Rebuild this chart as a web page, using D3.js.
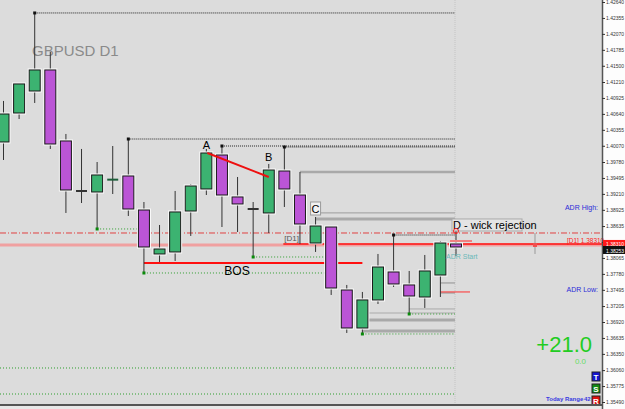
<!DOCTYPE html>
<html>
<head>
<meta charset="utf-8">
<script src="https://cdn.jsdelivr.net/npm/d3@7"></script>
<style>
  body { margin: 0; background: #fff; }
  svg { display: block; font-family: "Liberation Sans", Arial, sans-serif; }
</style>
</head>
<body>
<svg id="chart" width="625" height="409"></svg>
<script>
// daily bars, left to right
var bars = d3.range(30);
var opens  = [1.40138, 1.40656, 1.41049, 1.41425, 1.40156, 1.39262, 1.39244, 1.39459, 1.39530, 1.38922,
              1.38136, 1.38172, 1.38904, 1.39298, 1.39905, 1.39155, 1.38940, 1.38869, 1.39619, 1.39190,
              1.38332, 1.38618, 1.37492, 1.36813, 1.37314, 1.37814, 1.37582, 1.37367, 1.37760, 1.38315];
var highs  = [1.40871, 1.41192, 1.42444, 1.41747, 1.40281, 1.40013, 1.39780, 1.40066, 1.40191, 1.39065,
              1.38654, 1.39262, 1.39387, 1.40013, 1.40066, 1.39512, 1.39065, 1.39745, 1.40048, 1.39602,
              1.38797, 1.38636, 1.37582, 1.37457, 1.38136, 1.38475, 1.37832, 1.38118, 1.38368, 1.38565];
var lows   = [1.39816, 1.40549, 1.40835, 1.40013, 1.38869, 1.39047, 1.38583, 1.39208, 1.38815, 1.37796,
              1.37993, 1.38011, 1.38458, 1.39190, 1.38618, 1.38529, 1.38082, 1.38511, 1.38976, 1.38315,
              1.38172, 1.37403, 1.36724, 1.36706, 1.37242, 1.37546, 1.37063, 1.37171, 1.37367, 1.38100];
var closes = [1.40638, 1.41175, 1.41425, 1.40102, 1.39280, 1.39262, 1.39548, 1.39470, 1.38940, 1.38261,
              1.38225, 1.38887, 1.39351, 1.39941, 1.39190, 1.39030, 1.38940, 1.39637, 1.39298, 1.38672,
              1.38636, 1.37528, 1.36813, 1.37314, 1.37903, 1.37600, 1.37385, 1.37832, 1.38332, 1.38261];

var priceTicks = ["1.42640", "1.42355", "1.42070", "1.41785", "1.41500", "1.41210", "1.40925", "1.40640",
                  "1.40355", "1.40070", "1.39780", "1.39495", "1.39210", "1.38925", "1.38635", "1.38350",
                  "1.38065", "1.37780", "1.37495", "1.37205", "1.36920", "1.36635", "1.36350", "1.36060",
                  "1.35775", "1.35490"];

// swing highs / lows extended to the right
var highLevels = [[2, 1.42444, 29], [8, 1.40191, 29], [14, 1.40066, 29], [18, 1.40048, 29], [25, 1.38475, 29]];
var lowLevels  = [[6, 1.38583, 8.6], [9, 1.37796, 20.7], [16, 1.38082, 20.7], [26, 1.37063, 29], [23, 1.36706, 29]];
var zoneLines  = [[19, 1.39602, 2.5], [20, 1.38869, 1.2], [20, 1.38761, 3], [28, 1.37618, 1.5], [28, 1.37439, 1.5],
                  [26, 1.37153, 1], [23.4, 1.37081, 1.2], [23.4, 1.36956, 3], [23, 1.36759, 3]];
var fullDotted = [1.36098, 1.35633];
var adrHighLine = 1.38511, d1Level = 1.38315, pinkLevel = 1.38297, bosLevel = 1.37975;
var lastPrice = "1.38253", d1Label = "1.38310";

var svg = d3.select("#chart");
var W = 602, H = 405;

var x = d3.scaleLinear().domain([0, 29]).range([3.5, 456]);
var y = d3.scaleLinear().domain([1.35490, 1.42640]).range([402, 2]);
var xEnd = x(29) - 1;

svg.append("rect").attr("width", W).attr("height", H).attr("fill", "#dcdcdc");
svg.append("rect").attr("x", W).attr("width", 625 - W).attr("height", 409).attr("fill", "#fdfdfd");
svg.append("rect").attr("y", H).attr("width", W).attr("height", 4).attr("fill", "#e8e8e8");

// chart shift separator
svg.append("line").attr("x1", xEnd).attr("x2", xEnd).attr("y1", 0).attr("y2", H)
  .attr("stroke", "#c4c4c4").attr("stroke-dasharray", "1,1");

svg.append("text").attr("x", 32).attr("y", 56).attr("fill", "#8a8a8a")
  .attr("font-size", 15).text("GBPUSD D1");

// gray zone lines
svg.selectAll(".zone").data(zoneLines).enter().append("line")
  .attr("x1", d => x(d[0])).attr("x2", xEnd)
  .attr("y1", d => y(d[1])).attr("y2", d => y(d[1]))
  .attr("stroke", "#a9a9a9").attr("stroke-width", d => d[2]);

// full-width levels
svg.selectAll(".fd").data(fullDotted).enter().append("line")
  .attr("x1", 0).attr("x2", xEnd).attr("y1", d => y(d)).attr("y2", d => y(d))
  .attr("stroke", "#2e9e2e").attr("stroke-dasharray", "1,2");

svg.append("line").attr("x1", 0).attr("x2", W).attr("y1", y(pinkLevel)).attr("y2", y(pinkLevel))
  .attr("stroke", "#f0a0a0").attr("stroke-width", 3);
svg.append("line").attr("x1", 0).attr("x2", W).attr("y1", y(adrHighLine)).attr("y2", y(adrHighLine))
  .attr("stroke", "#e04040").attr("stroke-dasharray", "6,2,1,2");
svg.append("line").attr("x1", x(18) - 1).attr("x2", W).attr("y1", y(d1Level)).attr("y2", y(d1Level))
  .attr("stroke", "#ff1010").attr("stroke-width", 1.5);

// swing levels
svg.selectAll(".hl").data(highLevels).enter().append("line")
  .attr("x1", d => x(d[0])).attr("x2", d => x(d[2]) - 1)
  .attr("y1", d => y(d[1])).attr("y2", d => y(d[1]))
  .attr("stroke", "#222").attr("stroke-dasharray", "1,1");
svg.selectAll(".ll").data(lowLevels).enter().append("line")
  .attr("x1", d => x(d[0])).attr("x2", d => x(d[2]) - 1)
  .attr("y1", d => y(d[1])).attr("y2", d => y(d[1]))
  .attr("stroke", "#2e9e2e").attr("stroke-dasharray", "1,2");

// BOS
svg.append("line").attr("x1", x(9)).attr("x2", x(23)).attr("y1", y(bosLevel)).attr("y2", y(bosLevel))
  .attr("stroke", "#ff1010").attr("stroke-width", 2);
svg.append("text").attr("x", 237).attr("y", y(bosLevel) + 12).attr("text-anchor", "middle")
  .attr("font-size", 12).attr("fill", "#000").text("BOS");

svg.append("line").attr("x1", x(28)).attr("x2", x(29) + 14).attr("y1", y(1.37457)).attr("y2", y(1.37457))
  .attr("stroke", "#ff3030").attr("stroke-width", 1);

// candles
var g = svg.append("g");
var cw = 11;
bars.forEach(function(i) {
  var o = opens[i], c = closes[i], up = c >= o;
  g.append("line").attr("x1", x(i)).attr("x2", x(i)).attr("y1", y(highs[i])).attr("y2", y(lows[i]))
    .attr("stroke", "#333");
  var top = y(Math.max(o, c)), bot = y(Math.min(o, c));
  if (bot - top < 2) {
    g.append("line").attr("x1", x(i) - cw / 2).attr("x2", x(i) + cw / 2)
      .attr("y1", (top + bot) / 2).attr("y2", (top + bot) / 2)
      .attr("stroke", up && c > o ? "#1d5e3a" : "#333").attr("stroke-width", 2);
  } else {
    g.append("rect").attr("x", x(i) - cw / 2).attr("y", top).attr("width", cw).attr("height", bot - top)
      .attr("fill", "none").attr("stroke", "#fafafa").attr("stroke-width", 3);
    g.append("rect").attr("x", x(i) - cw / 2).attr("y", top).attr("width", cw).attr("height", bot - top)
      .attr("fill", up ? "#3cb371" : "#bb55d6").attr("stroke", "#1a1a1a").attr("stroke-width", 1);
  }
});

// level anchors
svg.selectAll(".hd").data(highLevels).enter().append("rect")
  .attr("x", d => x(d[0]) - 1.5).attr("y", d => y(d[1]) - 1.5).attr("width", 3).attr("height", 3)
  .attr("fill", "#111");
svg.selectAll(".ld").data(lowLevels).enter().append("rect")
  .attr("x", d => x(d[0]) - 1.5).attr("y", d => y(d[1]) - 1.5).attr("width", 3).attr("height", 3)
  .attr("fill", "#0a8a0a");

// A-B line and labels
svg.append("line").attr("x1", x(13) + 1).attr("y1", y(1.39941))
  .attr("x2", x(17)).attr("y2", y(1.39512))
  .attr("stroke", "#ee1010").attr("stroke-width", 2);
svg.append("text").attr("x", x(13)).attr("y", y(1.39941) - 4).attr("text-anchor", "middle")
  .attr("font-size", 11).text("A");
svg.append("text").attr("x", x(17)).attr("y", y(1.39745) - 3).attr("text-anchor", "middle")
  .attr("font-size", 11).text("B");
svg.append("rect").attr("x", x(20) - 5).attr("y", y(1.38797) - 15).attr("width", 10).attr("height", 13)
  .attr("fill", "#f2f2f2").attr("stroke", "#9a9a9a");
svg.append("text").attr("x", x(20)).attr("y", y(1.38797) - 4).attr("text-anchor", "middle")
  .attr("font-size", 11).text("C");

svg.append("text").attr("x", x(18)).attr("y", y(d1Level) - 3).attr("font-size", 8)
  .attr("fill", "#555").text("[D1]");

// D label
svg.append("rect").attr("x", x(29) - 4).attr("y", y(1.38565) - 11).attr("width", 70).attr("height", 12)
  .attr("fill", "#e4e4e4").attr("stroke", "#aaa");
svg.append("text").attr("x", x(29) - 3).attr("y", y(1.38565) - 1).attr("font-size", 11)
  .attr("fill", "#000").text("D - wick rejection");
svg.append("circle").attr("cx", x(29)).attr("cy", y(1.38565) + 1).attr("r", 2.5)
  .attr("fill", "none").attr("stroke", "#ff2020");
svg.append("line").attr("x1", x(29) - 6).attr("x2", x(29) + 16).attr("y1", y(1.38368)).attr("y2", y(1.38368))
  .attr("stroke", "#f08080").attr("stroke-width", 2);
svg.append("text").attr("x", x(29) - 10).attr("y", y(1.38100) + 3).attr("font-size", 7)
  .attr("fill", "#6ab8b8").text("ADR Start");

// ADR marker on the right
svg.append("line").attr("x1", 535).attr("x2", 535).attr("y1", y(1.38511)).attr("y2", y(1.38136))
  .attr("stroke", "#999");
svg.append("rect").attr("x", 533).attr("y", y(1.38297) - 2).attr("width", 4).attr("height", 4)
  .attr("fill", "#f05050");
svg.append("text").attr("x", 598).attr("y", 210).attr("text-anchor", "end").attr("font-size", 7)
  .attr("fill", "#2b2bd8").text("ADR High:");
svg.append("text").attr("x", 598).attr("y", 292).attr("text-anchor", "end").attr("font-size", 7)
  .attr("fill", "#2b2bd8").text("ADR Low:");
svg.append("text").attr("x", 567).attr("y", y(d1Level) - 1).attr("font-size", 6.5)
  .attr("fill", "#ff2020").text("[D1]  " + d1Label);

svg.append("text").attr("x", 592).attr("y", 352).attr("text-anchor", "end").attr("font-size", 22)
  .attr("fill", "#22cc22").text("+21.0");
svg.append("text").attr("x", 586).attr("y", 364).attr("text-anchor", "end").attr("font-size", 8)
  .attr("fill", "#66dd66").text("0.0");
svg.append("text").attr("x", 546).attr("y", 401).attr("font-size", 6).attr("font-weight", "bold")
  .attr("fill", "#3a3ae0").text("Today Range");
svg.append("text").attr("x", 584).attr("y", 401).attr("font-size", 6).attr("font-weight", "bold")
  .attr("fill", "#3a3ae0").text("42");

var btns = [["T", "#1414d0", 372], ["S", "#138a13", 384], ["R", "#e01010", 396]];
btns.forEach(function(b) {
  svg.append("rect").attr("x", 592).attr("y", b[2]).attr("width", 8).attr("height", 9)
    .attr("fill", b[1]).attr("stroke", "#222");
  svg.append("text").attr("x", 596).attr("y", b[2] + 7.5).attr("text-anchor", "middle")
    .attr("font-size", 8).attr("font-weight", "bold").attr("fill", "#fff").text(b[0]);
});

// price axis
svg.append("line").attr("x1", W + 0.5).attr("x2", W + 0.5).attr("y1", 0).attr("y2", 409)
  .attr("stroke", "#555").attr("stroke-width", 1.5);
svg.append("line").attr("x1", 0).attr("x2", W).attr("y1", H).attr("y2", H)
  .attr("stroke", "#555").attr("stroke-width", 2);
var ax = svg.append("g").attr("transform", "translate(" + W + ",0)")
  .call(d3.axisRight(y).tickValues(priceTicks.map(Number)).tickSize(3).tickPadding(1)
    .tickFormat((d, i) => priceTicks[i]));
ax.select(".domain").remove();
ax.selectAll("line").attr("stroke", "#333");
ax.selectAll("text").attr("font-size", 5.5).attr("fill", "#333")
  .attr("textLength", 18).attr("lengthAdjust", "spacingAndGlyphs")
  .attr("font-family", "Liberation Sans, Arial, sans-serif");
// the tick under the price boxes is hidden, as in the terminal
ax.selectAll(".tick text").filter(d => Math.abs(y(d) - y(d1Level)) < 6).remove();

svg.append("rect").attr("x", W + 1).attr("y", y(1.38315) - 4).attr("width", 625 - W).attr("height", 7)
  .attr("fill", "#ff1a1a");
svg.append("text").attr("x", W + 4).attr("y", y(1.38315) + 2).attr("font-size", 5.5).attr("fill", "#fff")
  .attr("textLength", 18).attr("lengthAdjust", "spacingAndGlyphs").text(d1Label);
svg.append("rect").attr("x", W + 1).attr("y", y(1.38261) - 1).attr("width", 625 - W).attr("height", 8)
  .attr("fill", "#111");
svg.append("text").attr("x", W + 4).attr("y", y(1.38261) + 6).attr("font-size", 5.5).attr("fill", "#fff")
  .attr("textLength", 18).attr("lengthAdjust", "spacingAndGlyphs").text(lastPrice);
</script>
</body>
</html>
